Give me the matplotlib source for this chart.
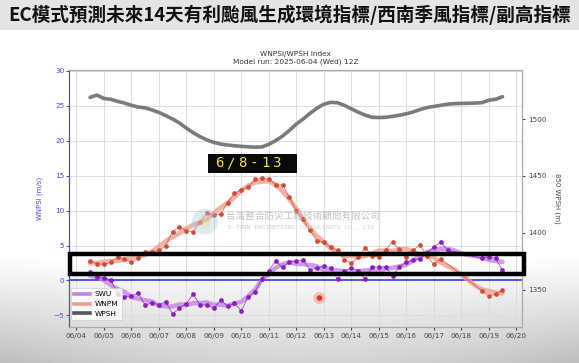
#!/usr/bin/env python3
"""
EC 模式 WNPSI / WPSH 指標圖（影片截圖重現）
"""
import numpy as np
import pandas as pd
import matplotlib
matplotlib.use("Agg")
import matplotlib.pyplot as plt
import matplotlib.dates as mdates
import matplotlib.patches as mpatches
from matplotlib.lines import Line2D

# ---- 資料：2025-06-04 12Z 起每 6 小時 ----
start_time = "2025-06-04 12:00"
end_time = "2025-06-19 12:00"

# 西南季風 / 有利颱風生成指標 (m/s)，NaN 表示圖上沒有點
swu = [1.15, 0.45, 0.4, 0.1, -1.95, -2.3, -2.2, -1.8, -3.5, -3.2,
       -3.45, -3.05, -4.8, -3.95, -3.35, -1.95, -3.5, -3.5, -3.95, -2.8,
       -3.7, -3.25, -4.35, -2.35, -1.6, 0.25, 1.4, 2.8, 1.9, 2.7,
       2.8, 2.9, 1.55, 1.8, 2.05, 1.85, 0.17, 1.33, 1.82, 1.4,
       0.17, 1.88, 1.9, 1.98, 0.6, 2.0, 2.6, 2.9, 3.1, 3.9,
       4.8, 5.5, 4.35, np.nan, np.nan, np.nan, np.nan, 3.17, 3.4, 3.17,
       1.45]
wnpm = [2.75, 2.4, 2.3, 2.62, 3.38, 3.12, 2.6, 3.15, 4.05, 4.1,
        4.3, 4.98, 7.0, 7.69, 7.12, 6.98, 8.4, 9.62, 9.4, 9.5,
        11.15, 12.45, 13.0, 13.35, 14.45, 14.65, 14.55, 13.7, 13.65, 11.9,
        10.0, 8.75, 7.2, 5.67, 5.45, 4.8, 4.3, 2.9, 2.5, 3.31,
        4.69, 3.55, 3.35, 4.4, 5.5, 4.45, 3.4, 4.3, 5.1, 3.45,
        2.36, 3.1, np.nan, np.nan, np.nan, np.nan, np.nan, -1.45, -2.2, -1.97,
        -1.3]
# 850hPa 副高高度 (m)
wpsh = [1519, 1521, 1518, 1517.3, 1515.5, 1514, 1512, 1510.5, 1509.8, 1508,
        1505.8, 1503, 1500, 1496.5, 1492, 1488, 1484.5, 1481.6, 1479.5, 1478,
        1477.2, 1476.5, 1476, 1475.6, 1475.3, 1475.5, 1477.8, 1481, 1485, 1490,
        1495.5, 1500, 1505, 1509.5, 1513, 1514.6, 1514.3, 1512, 1509, 1506,
        1503.5, 1501.5, 1501.3, 1501.5, 1502.3, 1503.3, 1504.6, 1506.2, 1508.3, 1510,
        1511, 1512, 1513, 1513.5, 1513.7, 1513.8, 1514, 1514.3, 1516.5, 1517.3,
        1519.6]

left_ticks = [-5, 0, 5, 10, 15, 20, 25, 30]
right_ticks = [1350, 1400, 1450, 1500]

banner_title = "EC模式預測未來14天有利颱風生成環境指標/西南季風指標/副高指標"
chart_title = "WNPSI/WPSH Index\nModel run: 2025-06-04 (Wed) 12Z"
highlight_text = "6/8-13"

W, H = 579, 363


def px(x, y):
    """像素座標 -> figure 比例座標"""
    return x / W, 1 - y / H


def smooth(values, times):
    """粗線：先補齊缺值再做 5 點滑動平均"""
    s = pd.Series(values, index=times).interpolate(method="time")
    return s.rolling(5, center=True, min_periods=1).mean()


def draw_background(fig):
    # 影片下方的灰色漸層
    bg = fig.add_axes([0, 0, 1, 1], zorder=-5)
    yy = np.linspace(0, 1, H)[:, None]
    xx = np.linspace(-1, 1, W)[None, :]
    ramp = np.clip((yy - 0.7) / 0.3, 0, 1) ** 1.1
    grad = 1 - 0.26 * ramp * (0.65 + 0.35 * xx ** 2)
    bg.imshow(grad, cmap="gray", vmin=0, vmax=1, aspect="auto",
              extent=[0, 1, 0, 1], origin="upper")
    bg.axis("off")

    # 上方標題橫幅
    x0, y0 = px(0, 30)
    fig.patches.append(mpatches.Rectangle((0, y0), 1, 1 - y0, transform=fig.transFigure,
                                          facecolor="#e4e4e4", edgecolor="none", zorder=-1))
    fig.text(0.5, 1 - 15 / H, banner_title, ha="center", va="center",
             fontsize=13.4, fontweight="bold", color="#111111",
             family=["Noto Sans CJK TC", "DejaVu Sans"])


def main():
    times = pd.date_range(start_time, end_time, freq="6h")

    fig = plt.figure(figsize=(W / 100, H / 100), dpi=100)
    draw_background(fig)

    ax = fig.add_axes([69.3 / W, 1 - 327 / H, (522.3 - 69.3) / W, (327 - 70) / H])
    ax.patch.set_alpha(0)
    ax2 = ax.twinx()

    c_swu_thick, c_swu = "#c385e2", "#8a1cc0"
    c_wnpm_thick, c_wnpm = "#ee9f8c", "#d24b38"
    c_wpsh = "#7b7b7b"

    # 平滑粗線
    s_swu = smooth(swu, times)
    s_wnpm = smooth(wnpm, times)
    ax.plot(s_wnpm.index, s_wnpm.values, color=c_wnpm_thick, lw=3.3, alpha=0.8,
            solid_capstyle="round", zorder=3)
    ax.plot(s_swu.index, s_swu.values, color=c_swu_thick, lw=3.3, alpha=0.8,
            solid_capstyle="round", zorder=3)

    # 原始點 + 細線（缺值跨接）
    for vals, col in ((wnpm, c_wnpm), (swu, c_swu)):
        ser = pd.Series(vals, index=times)
        valid = ser.dropna()
        ax.plot(valid.index, valid.values, color=col, lw=0.6, alpha=0.8, zorder=4)
        ax.plot(valid.index, valid.values, "o", color=col, ms=3.4, mec="none", zorder=5)

    # 零線
    ax.axhline(0, color="#3a3ae6", lw=1.2, zorder=2)

    # 副高
    ax2.plot(times, wpsh, color=c_wpsh, lw=2.6, solid_capstyle="round", zorder=3)

    # 座標軸
    ax.set_xlim(pd.Timestamp("2025-06-03 17:53"), pd.Timestamp("2025-06-20 05:17"))
    ax.set_ylim(-6.65, 30.1)
    ax2.set_ylim(1317.5, 1543)
    ax.set_yticks(left_ticks)
    ax2.set_yticks(right_ticks)
    ax.xaxis.set_major_locator(mdates.DayLocator())
    ax.xaxis.set_major_formatter(mdates.DateFormatter("%m/%d"))

    ax.grid(True, color="#dcdcdc", lw=0.7, zorder=0)
    ax.set_axisbelow(True)
    ax.tick_params(axis="x", labelsize=5.2, colors="#444444", length=2, pad=2)
    ax.tick_params(axis="y", labelsize=5.2, colors="#4848dd", length=2, pad=1.5)
    ax2.tick_params(axis="y", labelsize=5.2, colors="#444444", length=2, pad=2)
    for sp in ("top", "right", "bottom"):
        ax.spines[sp].set_color("#aaaaaa")
        ax2.spines[sp].set_color("#aaaaaa")
    ax.spines["left"].set_color("#4848dd")
    ax2.spines["left"].set_color("#4848dd")
    ax.set_ylabel("WNPSI (m/s)", fontsize=5, color="#4848dd", labelpad=8)
    ax2.set_ylabel("850 WPSH (m)", fontsize=5, color="#444444", rotation=270, labelpad=10)
    ax.set_title(chart_title, fontsize=5.3, color="#333333", pad=5, linespacing=1.3)

    # 圖例
    handles = [Line2D([], [], color=c_swu_thick, lw=2.6),
               Line2D([], [], color=c_wnpm_thick, lw=2.6),
               Line2D([], [], color="#555555", lw=2.6)]
    leg = ax.legend(handles, ["SWU", "WNPM", "WPSH"], loc="lower left",
                    bbox_to_anchor=(0.0, 0.02), fontsize=5.3, handlelength=2.2,
                    handletextpad=0.6, labelspacing=0.5, borderpad=0.45,
                    borderaxespad=0.2, frameon=True, fancybox=False)
    leg.get_frame().set_edgecolor("#cccccc")
    leg.get_frame().set_linewidth(0.6)

    # 浮水印
    cx, cy = px(205, 221.5)
    fig.patches.append(mpatches.Ellipse((cx, cy), 26 / W, 26 / H, transform=fig.transFigure,
                                        facecolor="#9fc3e0", alpha=0.35, edgecolor="none", zorder=6))
    fig.patches.append(mpatches.Ellipse((cx, cy), 12 / W, 16 / H, transform=fig.transFigure,
                                        facecolor="#e8d890", alpha=0.35, edgecolor="none", zorder=6))
    tx, ty = px(226, 216.5)
    fig.text(tx, ty, "台灣整合防災工程技術顧問有限公司", fontsize=6.9, color="#c2c2c2",
             ha="left", va="center", family=["Noto Sans CJK TC", "DejaVu Sans"], zorder=7)
    tx, ty = px(228, 227.5)
    fig.text(tx, ty, "E-TURN ENGINEERING CONSULTANTS CO., LTD", fontsize=4.5, color="#cdcdcd",
             ha="left", va="center", family="DejaVu Sans Mono", zorder=7)

    # 6/8-13 標註框
    bx, by = px(208, 173)
    fig.patches.append(mpatches.Rectangle((bx, by), 89 / W, 19 / H, transform=fig.transFigure,
                                          facecolor="#0a0a0a", edgecolor="none", zorder=8))
    for i, ch in enumerate(highlight_text):
        cxx, cyy = px(219.5 + 11.5 * i, 163.5)
        fig.text(cxx, cyy, ch, fontsize=10.2, color="#f2e23a", ha="center", va="center",
                 family="DejaVu Sans Mono", zorder=9)

    # 黑色框選
    rx, ry = px(70, 273.5)
    fig.patches.append(mpatches.Rectangle((rx, ry), 454 / W, 19.5 / H, transform=fig.transFigure,
                                          facecolor="none", edgecolor="black", lw=3.2, zorder=10))

    # 紅色游標點
    dx, dy = px(319.5, 298)
    fig.patches.append(mpatches.Ellipse((dx, dy), 12 / W, 12 / H, transform=fig.transFigure,
                                        facecolor="#f29a90", alpha=0.55, edgecolor="none", zorder=11))
    fig.patches.append(mpatches.Ellipse((dx, dy), 5.5 / W, 5.5 / H, transform=fig.transFigure,
                                        facecolor="#e03424", edgecolor="none", zorder=12))

    fig.savefig("out.png", dpi=100)
    plt.close(fig)


if __name__ == "__main__":
    main()
